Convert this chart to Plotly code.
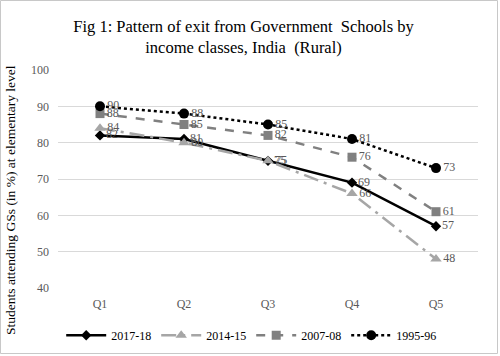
import plotly.graph_objects as go

categories = ["Q1", "Q2", "Q3", "Q4", "Q5"]
s2017 = [82, 81, 75, 69, 57]
s2014 = [84, 80, 75, 66, 48]
s2007 = [88, 85, 82, 76, 61]
s1995 = [90, 88, 85, 81, 73]

FONT = "Liberation Serif"
TXT = "#595959"

series = [
    ("2017-18", s2017, "#000000", "solid", "diamond", 2.5, 8),
    ("2014-15", s2014, "#a6a6a6", "longdashdot", "triangle-up", 2.5, 10),
    ("2007-08", s2007, "#808080", "dash", "square", 2.5, 9),
    ("1995-96", s1995, "#000000", "dot", "circle", 2.5, 10),
]

fig = go.Figure()
for name, vals, color, dash, sym, w, ms in series:
    fig.add_trace(go.Scatter(
        x=categories, y=vals, name=name, mode="lines+markers+text",
        line=dict(color=color, dash=dash, width=w),
        marker=dict(symbol=sym, size=ms, color=color),
        text=[str(v) for v in vals], textposition="middle right",
        textfont=dict(family=FONT, size=12, color=TXT),
        cliponaxis=False,
    ))

L, R, T, B = 58, 22, 70, 68
W, H = 500, 356
pw, ph = W - L - R, H - T - B

fig.update_layout(
    template="none",
    width=W, height=H,
    paper_bgcolor="white", plot_bgcolor="white",
    margin=dict(l=L, r=R, t=T, b=B, autoexpand=False),
    font=dict(family=FONT, size=12, color=TXT),
    title=dict(
        text="Fig 1: Pattern of exit from Government  Schools by<br>income classes, India  (Rural)",
        x=0.487, xanchor="center", y=0.91, yanchor="top",
        font=dict(family=FONT, size=16.5, color="#000000"),
    ),
    xaxis=dict(range=[-0.5, 4.5], showgrid=False, showline=False, zeroline=False,
               ticks="", ticklabelstandoff=7, color=TXT,
               tickfont=dict(family=FONT, size=12, color=TXT)),
    yaxis=dict(range=[40, 100], dtick=10, showgrid=True, gridcolor="#d9d9d9",
               gridwidth=1, zeroline=False, showline=False, ticks="",
               ticklabelstandoff=8, color=TXT,
               tickfont=dict(family=FONT, size=12, color=TXT)),
    legend=dict(orientation="h", x=0.46, xanchor="center", y=-0.15, yanchor="top",
                font=dict(family=FONT, size=12, color="#000000"), itemwidth=40,
                tracegroupgap=0, bgcolor="rgba(0,0,0,0)"),
    showlegend=True,
    annotations=[dict(text="Students attending GSs (in %) at elementary level",
                      textangle=-90, xref="paper", yref="paper",
                      x=(10 - L) / pw, y=(T + ph - 200) / ph,
                      xanchor="center", yanchor="middle", showarrow=False,
                      font=dict(family=FONT, size=13.5, color="#000000"))],
    shapes=[dict(type="rect", xref="paper", yref="paper",
                 x0=(0.5 - L) / pw, x1=(W - 2.5 - L) / pw,
                 y0=-(H - T - 2.5 - ph) / ph, y1=(ph + T - 0.5) / ph,
                 line=dict(color="#c8c8c8", width=1), layer="above")],
)

fig.write_html("out.html", config={"displayModeBar": False},
               post_script="document.body.style.margin='0px';")
